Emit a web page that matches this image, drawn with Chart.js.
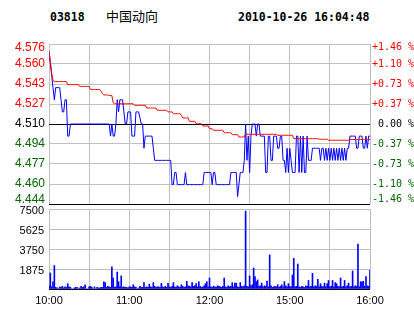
<!DOCTYPE html>
<html>
<head>
<meta charset="utf-8">
<script src="https://cdn.jsdelivr.net/npm/chart.js@4.4.0/dist/chart.umd.min.js"></script>
<style>
  body { margin: 0; background: #fff; width: 414px; height: 314px; overflow: hidden; position: relative; }
  .hd { position: absolute; top: 10px; font: bold 11.5px/14px "DejaVu Sans Mono", monospace; color: #000; white-space: pre; }
  #name { position: absolute; left: 106px; top: 9px; font: 13px/14px "Noto Sans CJK SC", sans-serif; color: #000; }
  #priceChart { position: absolute; left: 0; top: 30px; }
  #volChart { position: absolute; left: 0; top: 195px; }
</style>
</head>
<body>
<div class="hd" id="code" style="left:50px"></div>
<div id="name"></div>
<div class="hd" id="stamp" style="left:238px"></div>
<canvas id="priceChart" width="414" height="180"></canvas>
<canvas id="volChart" width="414" height="119"></canvas>
<script>
// header
const stockCode = '03818';
const stockName = '中国动向';
const stampText = '2010-10-26 16:04:48';

// axes (bottom -> top)
const priceMin = 4.444;
const priceMax = 4.576;
const priceTicks = ['4.444', '4.460', '4.477', '4.494', '4.510', '4.527', '4.543', '4.560', '4.576'];
const pctTicks = ['-1.46 %', '-1.10 %', '-0.73 %', '-0.37 %', ' 0.00 %', '+0.37 %', '+0.73 %', '+1.10 %', '+1.46 %'];
const volValues = [0, 1875, 3750, 5625, 7500];
const volTicks = ['', '1875', '3750', '5625', '7500'];
const gridMinutes = [0, 30, 60, 90, 120, 150, 180, 210, 240];
const timeLabels = ['10:00', '', '11:00', '', '12:00', '', '15:00', '', '16:00'];

// one value per trading minute, 10:00 .. 12:30 + 14:30 .. 16:00
const price = [
  4.57, 4.56, 4.55, 4.54, 4.53, 4.54, 4.54, 4.54, 4.54, 4.53,
  4.52, 4.52, 4.53, 4.53, 4.50, 4.50, 4.51, 4.51, 4.51, 4.51,
  4.51, 4.51, 4.51, 4.51, 4.51, 4.51, 4.51, 4.51, 4.51, 4.51,
  4.51, 4.51, 4.51, 4.51, 4.51, 4.51, 4.51, 4.51, 4.51, 4.51,
  4.51, 4.51, 4.51, 4.51, 4.51, 4.51, 4.50, 4.51, 4.50, 4.50,
  4.51, 4.53, 4.52, 4.53, 4.53, 4.53, 4.52, 4.51, 4.51, 4.52,
  4.52, 4.52, 4.50, 4.50, 4.50, 4.52, 4.52, 4.52, 4.515, 4.51,
  4.51, 4.49, 4.50, 4.50, 4.50, 4.50, 4.50, 4.50, 4.49, 4.48,
  4.48, 4.48, 4.48, 4.48, 4.48, 4.48, 4.48, 4.48, 4.48, 4.48,
  4.48, 4.48, 4.46, 4.46, 4.47, 4.47, 4.46, 4.46, 4.46, 4.46,
  4.46, 4.46, 4.47, 4.46, 4.46, 4.46, 4.46, 4.46, 4.46, 4.46,
  4.46, 4.46, 4.46, 4.46, 4.46, 4.46, 4.47, 4.47, 4.47, 4.47,
  4.47, 4.47, 4.46, 4.47, 4.47, 4.46, 4.46, 4.46, 4.46, 4.46,
  4.46, 4.46, 4.46, 4.46, 4.46, 4.46, 4.47, 4.47, 4.47, 4.47,
  4.47, 4.45, 4.46, 4.47, 4.47, 4.47, 4.48, 4.51, 4.48, 4.50,
  4.47, 4.50, 4.51, 4.51, 4.51, 4.50, 4.51, 4.51, 4.50, 4.50,
  4.50, 4.50, 4.47, 4.47, 4.50, 4.50, 4.48, 4.48, 4.50, 4.50,
  4.50, 4.49, 4.49, 4.50, 4.50, 4.48, 4.48, 4.47, 4.49, 4.47,
  4.49, 4.48, 4.47, 4.47, 4.47, 4.50, 4.50, 4.47, 4.50, 4.47,
  4.50, 4.47, 4.47, 4.50, 4.48, 4.48, 4.48, 4.49, 4.49, 4.49,
  4.49, 4.49, 4.49, 4.48, 4.49, 4.49, 4.48, 4.49, 4.48, 4.49,
  4.48, 4.49, 4.48, 4.49, 4.48, 4.49, 4.48, 4.49, 4.48, 4.49,
  4.48, 4.49, 4.48, 4.49, 4.49, 4.50, 4.50, 4.50, 4.50, 4.50,
  4.49, 4.49, 4.50, 4.50, 4.50, 4.49, 4.49, 4.50, 4.49, 4.50,
  4.50
];

const avgPrice = [
  4.570, 4.562, 4.552, 4.546, 4.545, 4.545, 4.545, 4.545, 4.545, 4.545,
  4.545, 4.545, 4.545, 4.545, 4.5425, 4.5425, 4.5425, 4.5425, 4.5425, 4.5425,
  4.5425, 4.5425, 4.5425, 4.541, 4.541, 4.541, 4.541, 4.541, 4.541, 4.541,
  4.541, 4.5385, 4.5385, 4.5385, 4.5385, 4.5385, 4.5385, 4.5385, 4.5385, 4.537,
  4.535, 4.534, 4.534, 4.534, 4.534, 4.5335, 4.5335, 4.5335, 4.5275, 4.5267,
  4.5267, 4.5267, 4.5267, 4.5267, 4.5267, 4.5267, 4.5267, 4.5267, 4.5267, 4.5267,
  4.5267, 4.5267, 4.5267, 4.5267, 4.5254, 4.5254, 4.5254, 4.5254, 4.5254, 4.5254,
  4.5254, 4.5254, 4.5254, 4.5232, 4.5232, 4.5232, 4.5232, 4.5232, 4.5232, 4.5232,
  4.5232, 4.5213, 4.5213, 4.5213, 4.5213, 4.5213, 4.5213, 4.5213, 4.5213, 4.520,
  4.520, 4.520, 4.520, 4.5185, 4.5185, 4.5185, 4.5185, 4.5185, 4.5185, 4.517,
  4.515, 4.515, 4.515, 4.515, 4.515, 4.5122, 4.5122, 4.5122, 4.5122, 4.5122,
  4.5102, 4.5102, 4.5102, 4.5102, 4.5102, 4.5084, 4.5084, 4.5084, 4.5084, 4.5084,
  4.5061, 4.5061, 4.5061, 4.5048, 4.5048, 4.5048, 4.5048, 4.5048, 4.5048, 4.5048,
  4.5048, 4.5028, 4.5028, 4.5028, 4.5028, 4.5028, 4.5028, 4.5012, 4.5012, 4.5012,
  4.5012, 4.5012, 4.4993, 4.4993, 4.4993, 4.4993, 4.4993, 4.502, 4.5015, 4.5015,
  4.5015, 4.5015, 4.5015, 4.5015, 4.5015, 4.5015, 4.5015, 4.5015, 4.5015, 4.5015,
  4.5015, 4.5015, 4.5015, 4.5015, 4.5015, 4.5015, 4.5015, 4.5015, 4.5015, 4.5015,
  4.5015, 4.5007, 4.5007, 4.5007, 4.5007, 4.5007, 4.5007, 4.5007, 4.5007, 4.5007,
  4.5007, 4.5007, 4.5007, 4.4979, 4.4979, 4.4979, 4.4979, 4.4979, 4.4979, 4.4979,
  4.4979, 4.4979, 4.4979, 4.4979, 4.4979, 4.4979, 4.4979, 4.4979, 4.4979, 4.4979,
  4.4979, 4.4979, 4.4974, 4.4974, 4.4974, 4.4974, 4.4974, 4.4974, 4.4974, 4.4966,
  4.4966, 4.4966, 4.4966, 4.4966, 4.4966, 4.4966, 4.4966, 4.4966, 4.4966, 4.4966,
  4.4966, 4.4966, 4.4966, 4.4966, 4.4966, 4.4972, 4.4972, 4.4972, 4.4972, 4.4972,
  4.4972, 4.4972, 4.4972, 4.4972, 4.4972, 4.4972, 4.4972, 4.4972, 4.4972, 4.4972,
  4.4972
];

const volume = [
  300, 1500, 200, 680, 2200, 150, 100, 0, 200, 150,
  250, 100, 200, 150, 500, 200, 150, 0, 0, 100,
  150, 150, 0, 100, 250, 150, 200, 400, 0, 0,
  200, 250, 150, 0, 200, 0, 150, 100, 100, 150,
  150, 680, 600, 150, 250, 200, 150, 2090, 1030, 150,
  200, 1590, 680, 200, 1230, 150, 200, 150, 150, 100,
  200, 200, 150, 400, 200, 150, 0, 100, 250, 150,
  150, 600, 150, 200, 150, 450, 200, 150, 600, 250,
  150, 200, 200, 150, 520, 200, 150, 250, 150, 520,
  200, 150, 250, 600, 200, 150, 300, 200, 150, 400,
  250, 150, 200, 720, 300, 250, 200, 600, 250, 300,
  500, 200, 680, 250, 150, 200, 300, 500, 680, 200,
  1030, 200, 150, 250, 200, 150, 300, 250, 200, 150,
  250, 1030, 200, 150, 300, 200, 250, 600, 200, 550,
  550, 200, 150, 600, 250, 200, 300, 7300, 250, 200,
  1230, 300, 400, 1970, 1170, 690, 850, 250, 300, 550,
  200, 300, 250, 740, 200, 3190, 300, 150, 200, 250,
  200, 400, 150, 250, 400, 200, 690, 300, 200, 500,
  250, 200, 1310, 2870, 200, 250, 2340, 200, 150, 250,
  200, 150, 300, 250, 800, 200, 250, 1470, 200, 300,
  250, 900, 200, 500, 250, 200, 550, 200, 500, 800,
  200, 250, 800, 200, 600, 500, 250, 200, 1030, 200,
  250, 800, 200, 300, 550, 200, 250, 1690, 200, 300,
  250, 4220, 200, 680, 680, 720, 250, 1170, 300, 250,
  1780
];

document.getElementById('code').textContent = stockCode;
document.getElementById('name').textContent = stockName;
document.getElementById('stamp').textContent = stampText;

const RED = '#ff0000';
const GREEN = '#006600';
const GRID = '#c0c0c0';

// grid lines sit on the ticks; the top and bottom labels are drawn a few px inside the plot
const plotHeight = 160;
const pxVal = (priceMax - priceMin) / plotHeight;
const gridVals = priceTicks.map((t, i) => priceMin + i * (priceMax - priceMin) / 8);
const labelVals = gridVals.slice();
labelVals[0] += 4.5 * pxVal;
labelVals[8] -= 3.5 * pxVal;

function tickColor(ctx) {
  if (ctx.index < 4) return GREEN;
  if (ctx.index === 4) return '#000';
  return RED;
}

// fixed axis width, no extra room claimed above/below the plot
const fixWidth = w => s => { s.width = w; s.paddingTop = 0; s.paddingBottom = 0; };

const asXY = arr => arr.map((v, i) => ({ x: i, y: v }));

const xGrid = {
  type: 'linear',
  min: 0,
  max: 240,
  offset: false,
  afterBuildTicks: s => { s.ticks = gridMinutes.map(v => ({ value: v })); },
  grid: { color: GRID, lineWidth: 1, drawTicks: false, offset: false },
  border: { display: false }
};

new Chart(document.getElementById('priceChart'), {
  type: 'line',
  data: {
    datasets: [
      { data: asXY(avgPrice), borderColor: RED, borderWidth: 1, pointRadius: 0, tension: 0, yAxisID: 'y' },
      { data: asXY(price), borderColor: '#0000ff', borderWidth: 1, pointRadius: 0, tension: 0, yAxisID: 'y' }
    ]
  },
  options: {
    responsive: false,
    animation: false,
    events: [],
    layout: { padding: { top: 14, bottom: 6, left: 0, right: 0 } },
    plugins: { legend: { display: false }, tooltip: { enabled: false } },
    scales: {
      x: Object.assign({}, xGrid, {
        afterFit: s => { s.height = 0; },
        ticks: { display: false }
      }),
      y: {
        position: 'left',
        min: priceMin,
        max: priceMax,
        afterBuildTicks: s => { s.ticks = labelVals.map(v => ({ value: v })); },
        afterFit: fixWidth(49),
        grid: { display: false, drawTicks: false },
        border: { display: false },
        ticks: {
          autoSkip: false,
          padding: 4,
          color: tickColor,
          font: { family: 'Liberation Sans', size: 12 },
          callback: (v, i) => priceTicks[i]
        }
      },
      yg: {
        position: 'left',
        min: priceMin,
        max: priceMax,
        afterBuildTicks: s => { s.ticks = gridVals.map(v => ({ value: v })); },
        afterFit: fixWidth(0),
        grid: {
          drawTicks: false,
          lineWidth: 1,
          color: ctx => (ctx.index === 0 || ctx.index === 4) ? '#000' : GRID
        },
        border: { display: false },
        ticks: { display: false }
      },
      yr: {
        position: 'right',
        min: priceMin,
        max: priceMax,
        afterBuildTicks: s => { s.ticks = labelVals.map(v => ({ value: v })); },
        afterFit: fixWidth(44),
        grid: { display: false, drawTicks: false },
        border: { display: false },
        ticks: {
          autoSkip: false,
          padding: 2,
          color: tickColor,
          font: { family: 'DejaVu Sans Mono', size: 10 },
          callback: (v, i) => pctTicks[i]
        }
      }
    }
  }
});

new Chart(document.getElementById('volChart'), {
  type: 'bar',
  data: {
    datasets: [
      { data: asXY(volume), backgroundColor: '#0000ff', borderWidth: 0, barThickness: 1 }
    ]
  },
  options: {
    responsive: false,
    animation: false,
    events: [],
    layout: { padding: { top: 14, bottom: 5, left: 0, right: 44 } },
    plugins: { legend: { display: false }, tooltip: { enabled: false } },
    scales: {
      x: Object.assign({}, xGrid, {
        afterFit: s => { s.height = 20; },
        ticks: {
          autoSkip: false,
          maxRotation: 0,
          padding: 5,
          color: '#000',
          font: { family: 'Liberation Sans', size: 11 },
          callback: (v, i) => timeLabels[i]
        }
      }),
      y: {
        min: 0,
        max: 7500,
        afterBuildTicks: s => { s.ticks = volValues.map(v => ({ value: v })); },
        afterFit: fixWidth(49),
        grid: {
          drawTicks: false,
          lineWidth: 1,
          color: ctx => ctx.index === 0 ? '#000' : GRID
        },
        border: { display: false },
        ticks: {
          autoSkip: false,
          padding: 5,
          labelOffset: 2,
          color: '#000',
          font: { family: 'Liberation Sans', size: 11 },
          callback: (v, i) => volTicks[i]
        }
      }
    }
  }
});
</script>
</body>
</html>
